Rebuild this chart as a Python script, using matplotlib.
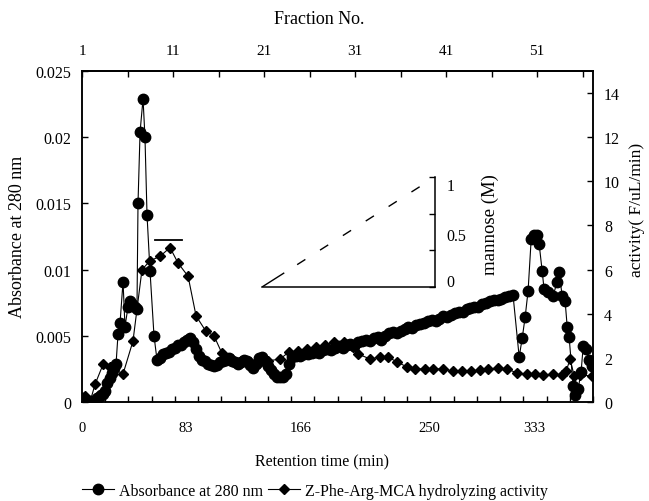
import numpy as np
import matplotlib
matplotlib.use("Agg")
import matplotlib.pyplot as plt

plt.rcParams["font.family"] = ["Liberation Serif", "DejaVu Serif"]

# Absorbance at 280 nm (left axis), retention time in min
abs_time = [0, 2.3, 4.7, 7.0, 9.3, 11.6, 13.2, 14.7, 16.3, 17.8, 19.4, 21.7, 23.3, 24.8, 26.4,
            27.9, 29.5, 31.8, 33.3, 35.7, 37.2, 38.8, 41.1, 42.6, 43.4, 45.0, 47.3, 48.8, 50.4,
            52.7, 55.8, 58.1,
            60.5, 62.8, 65.1, 67.4, 69.8, 72.1, 74.4, 76.7, 79.1, 81.4, 83.7, 86.0, 88.4, 90.7,
            93.0, 95.3, 97.7, 100.0, 102.3, 104.7, 107.0, 109.3, 111.6, 114.0, 116.3, 118.6,
            120.9, 123.3, 125.6, 127.9, 130.2, 132.6, 134.9, 137.2, 139.5, 141.9, 144.2, 146.5,
            148.8, 151.2, 153.5, 155.8, 158.1, 160.5, 162.8, 165.9,
            169, 172, 175, 178, 181, 184, 187, 190, 193, 196, 199, 202, 205, 208, 211, 214, 217,
            220, 223, 226, 229, 232, 235, 238, 241, 244, 247, 250, 253, 256, 259, 262, 265, 268,
            271, 274, 277, 280, 283, 286, 289, 292, 295, 298, 301, 304, 307, 310, 313, 316, 319,
            322, 325, 328, 331, 334,
            338.8, 341.1, 343.4, 345.7, 348.1, 350.4, 352.7, 354.3, 356.6, 358.1, 361.2, 365.1,
            368.2, 369.8, 372.1, 374.4, 376.0, 377.5, 380.6, 382.2, 384.5, 386.8, 388.4, 390.7,
            393.0, 395.3]
abs_value = [0.0003, 0.0001, 0.0000, 0.0001, 0.0000, 0.0003, 0.0004, 0.0005, 0.0006, 0.0008,
             0.0014, 0.0018, 0.0022, 0.0026, 0.0029, 0.0051, 0.0060, 0.0091, 0.0057, 0.0072,
             0.0076, 0.0074, 0.0072, 0.0070, 0.0150, 0.0204, 0.0229, 0.0200, 0.0141, 0.0099,
             0.0050, 0.0032,
             0.0033, 0.0036, 0.0037, 0.0038, 0.0040, 0.0041, 0.0043, 0.0043, 0.0045, 0.0047,
             0.0048, 0.0045, 0.0040, 0.0035, 0.0032, 0.0031, 0.0029, 0.0028, 0.0027, 0.0028,
             0.0030, 0.0031, 0.0032, 0.0033, 0.0031, 0.0030, 0.0029, 0.0030, 0.0032, 0.0031,
             0.0028, 0.0026, 0.0029, 0.0033, 0.0034, 0.0031, 0.0027, 0.0024, 0.0021, 0.0019,
             0.0019, 0.0019, 0.0021, 0.0029, 0.0034, 0.0035,
             0.0035, 0.0036, 0.0036, 0.0037, 0.0038, 0.0037, 0.0039, 0.0040, 0.0039, 0.0041,
             0.0042, 0.0041, 0.0043, 0.0044, 0.0042, 0.0045, 0.0046, 0.0047, 0.0046, 0.0048,
             0.0049, 0.0047, 0.0050, 0.0052, 0.0053, 0.0052, 0.0054, 0.0055, 0.0057, 0.0056,
             0.0058, 0.0059, 0.0060, 0.0061, 0.0062, 0.0061, 0.0063, 0.0065, 0.0064, 0.0066,
             0.0067, 0.0068, 0.0068, 0.0070, 0.0071, 0.0072, 0.0072, 0.0074, 0.0075, 0.0076,
             0.0077, 0.0077, 0.0078, 0.0079, 0.0080, 0.0081,
             0.0034, 0.0048, 0.0064, 0.0084, 0.0123, 0.0126, 0.0126, 0.0119, 0.0099, 0.0085,
             0.0083, 0.0080, 0.0091, 0.0098, 0.0080, 0.0076, 0.0057, 0.0049, 0.0012, 0.0005,
             0.0010, 0.0023, 0.0042, 0.0040, 0.0032, 0.0027]

# Z-Phe-Arg-MCA hydrolyzing activity (right axis)
act_time = [2.3, 6.2, 10.1, 16.3, 21.7, 31.8, 39.5, 46.5, 52.7, 60.5, 68.2, 74.4, 82.2, 88.4,
            96.1, 102.3, 108.5, 116.3, 123.3, 130.2, 137.2, 144.2, 153.5, 160.5, 167.4, 174.4,
            181.4, 188.4, 195.3, 203.1, 210.1, 214.0, 223.3, 231.0, 237.2, 244.2, 251.9, 258.1,
            265.9, 272.1, 279.8, 287.6, 294.6, 301.6, 308.5, 314.7, 322.5, 329.5, 337.2, 345.0,
            351.2, 357.4, 365.1, 372.1, 375.2, 378.3, 381.4, 386.0, 395.3]
act_value = [0.27, 0.0, 0.8, 1.7, 1.6, 1.27, 2.76, 6.0, 6.4, 6.6, 7.0, 6.3, 5.7, 3.9, 3.2, 3.0,
             2.2, 1.95, 1.86, 1.81, 1.77, 1.86, 1.95, 2.27, 2.31, 2.40, 2.49, 2.58, 2.72, 2.72,
             2.49, 2.17, 1.95, 2.04, 2.04, 1.81, 1.59, 1.50, 1.50, 1.50, 1.50, 1.40, 1.40, 1.40,
             1.45, 1.50, 1.54, 1.50, 1.31, 1.27, 1.27, 1.22, 1.27, 1.22, 1.40, 1.95, 1.18, 1.22,
             1.18]

# pooled fractions bar
pool_range = [56.6, 77.5]
pool_level = 7.34

# mannose gradient (inset)
mannose_x = [0, 1]
mannose_y = [0, 1]

ret_label_pos = [0, 80.6, 169.8, 269.0, 350.4]
ret_labels = ["0", "83", "166", "250", "333"]
frac_labels = [1, 11, 21, 31, 41, 51]
min_per_fraction = 7.054

fig = plt.figure(figsize=(6.49, 5.02), dpi=100)
ax = fig.add_axes([82 / 649, 99 / 502, 511 / 649, 331 / 502])
ax2 = ax.twinx()

l1, = ax.plot(abs_time, abs_value, color="black", lw=0.8, marker="o", ms=7.5,
              label="Absorbance at 280 nm")
l2, = ax2.plot(act_time, act_value, color="black", lw=0.8, marker="D", ms=4.8,
               label="Z-Phe-Arg-MCA hydrolyzing activity")
ax2.plot(pool_range, [pool_level, pool_level], color="black", lw=1.3)

ax.set_xlim(0, 396)
ax.set_ylim(0, 0.025)
ax2.set_ylim(0, 15)

ax.set_yticks([0, 0.005, 0.01, 0.015, 0.02, 0.025])
ax.set_yticklabels(["0", "0.005", "0.01", "0.015", "0.02", "0.025"])
ax2.set_yticks(range(0, 15, 2))

ax.set_xticks(ret_label_pos)
ax.set_xticklabels(ret_labels)
ax.set_xticks(np.arange(0, 397, 18.0), minor=True)
ax.tick_params(axis="x", which="major", length=0, pad=14, labelsize=10.5)
ax.tick_params(axis="x", which="minor", direction="in", length=4, width=1)
ax.tick_params(axis="y", direction="in", length=4, width=1, pad=8, labelsize=11.5)
ax2.tick_params(axis="y", direction="in", length=4, width=1, pad=8, labelsize=11.5)
ax.tick_params(top=False)

sec = ax.secondary_xaxis("top", functions=(lambda t: 1 + t / min_per_fraction,
                                           lambda f: (f - 1) * min_per_fraction))
sec.set_xticks(frac_labels)
sec.set_xticks([6, 16, 26, 36, 46, 56], minor=True)
sec.tick_params(which="both", direction="in", length=4, width=1, pad=10, labelsize=11)

for a in (ax, ax2):
    for s in a.spines.values():
        s.set_linewidth(1.1)
for s in sec.spines.values():
    s.set_linewidth(1.1)

fig.text(319 / 649, 1 - 20 / 502, "Fraction No.", ha="center", va="center", fontsize=13)
fig.text(18 / 649, 1 - 237 / 502, "Absorbance at 280 nm", rotation=90,
         ha="center", va="center", fontsize=13)
fig.text(637 / 649, 1 - 210 / 502, "activity( F/uL/min)", rotation=90,
         ha="center", va="center", fontsize=12.5)
fig.text(322 / 649, 1 - 462 / 502, "Retention time (min)", ha="center", va="center",
         fontsize=11.5)

fig.legend([l1, l2], [l1.get_label(), l2.get_label()], loc="center",
           bbox_to_anchor=(315 / 649, 1 - 492 / 502), ncol=2, frameon=False,
           handlelength=2.0, columnspacing=0.3, handletextpad=0.3, fontsize=11.5)

# mannose gradient inset
axi = fig.add_axes([262 / 649, 214 / 502, 173 / 649, 110 / 502])
axi.patch.set_alpha(0)
axi.plot(mannose_x, mannose_y, color="black", lw=1.0,
         dashes=(19, 11, 7, 12.5, 7, 12.5, 7, 12.5, 7, 12.5, 7, 12.5, 7, 12.5))
axi.set_xlim(0, 1)
axi.set_ylim(0, 1)
axi.spines["left"].set_visible(False)
axi.spines["top"].set_visible(False)
axi.spines["bottom"].set_linewidth(1.1)
axi.spines["right"].set_linewidth(1.1)
axi.set_xticks([])
axi.yaxis.tick_right()
axi.set_yticks([0, 1 / 3, 2 / 3, 1])
axi.set_yticklabels([])
axi.tick_params(axis="y", direction="in", length=4, width=1)
for val, lab in zip([0.045, 0.46, 0.92], ["0", "0.5", "1"]):
    axi.text(1.065, val, lab, transform=axi.transAxes, ha="left", va="center", fontsize=11.5)
fig.text(490 / 649, 1 - 225 / 502, "mannose (M)", rotation=90, ha="center", va="center",
         fontsize=13.5)

fig.savefig("out.png", dpi=100)
